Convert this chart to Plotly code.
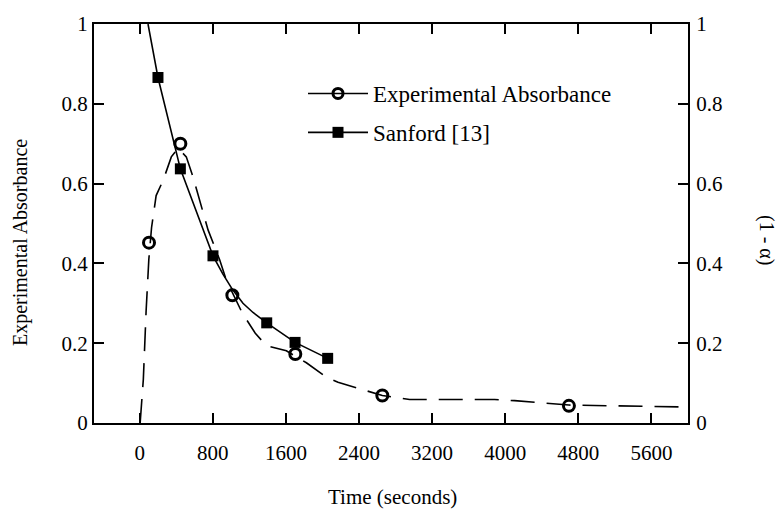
import plotly.graph_objects as go

# Experimental absorbance measured points
exp_time = [102, 445, 1014, 1703, 2655, 4697]
exp_abs = [0.452, 0.700, 0.320, 0.173, 0.069, 0.043]

# Experimental absorbance fitted (dashed) curve
exp_curve_time = [5, 40, 70, 100, 130, 180, 260, 346, 420, 510, 583, 656, 748, 875, 948,
                  1124, 1265, 1386, 1605, 1824, 2042, 2170, 2388, 2655, 2954, 3884, 4103,
                  4450, 4697, 6000]
exp_curve_abs = [0.0, 0.11, 0.28, 0.41, 0.49, 0.57, 0.61, 0.667, 0.689, 0.667, 0.617, 0.56,
                 0.484, 0.409, 0.358, 0.275, 0.225, 0.194, 0.181, 0.151, 0.115, 0.102,
                 0.087, 0.069, 0.059, 0.059, 0.056, 0.049, 0.045, 0.040]

# Sanford [13] (1 - alpha) model
san_line_time = [91, 200, 445, 802, 911, 1014, 1130, 1240, 1390, 1700, 2057]
san_line_val = [1.0, 0.866, 0.637, 0.419, 0.373, 0.335, 0.300, 0.277, 0.251, 0.202, 0.162]
san_time = [200, 445, 802, 1390, 1700, 2057]
san_val = [0.866, 0.637, 0.419, 0.251, 0.202, 0.162]

x_ticks = [0, 800, 1600, 2400, 3200, 4000, 4800, 5600]
y_ticks = [0, 0.2, 0.4, 0.6, 0.8, 1]

FONT = "Liberation Serif, Times New Roman, serif"

fig = go.Figure()

fig.add_trace(go.Scatter(x=exp_curve_time, y=exp_curve_abs, mode="lines",
                         line=dict(color="black", width=1.6, dash="24px,12px"),
                         showlegend=False, hoverinfo="skip"))
fig.add_trace(go.Scatter(x=exp_time, y=exp_abs, mode="markers",
                         marker=dict(symbol="circle-open", size=11, color="black",
                                     line=dict(width=3, color="black")),
                         showlegend=False))
fig.add_trace(go.Scatter(x=san_line_time, y=san_line_val, mode="lines", yaxis="y2",
                         line=dict(color="black", width=1.6),
                         showlegend=False, hoverinfo="skip"))
fig.add_trace(go.Scatter(x=san_time, y=san_val, mode="markers", yaxis="y2",
                         marker=dict(symbol="square", size=11, color="black"),
                         showlegend=False))

# legend entries
fig.add_trace(go.Scatter(x=[None], y=[None], mode="lines+markers",
                         name="Experimental Absorbance", legendgroup="a",
                         line=dict(color="black", width=1.6),
                         marker=dict(symbol="circle-open", size=10, color="black",
                                     line=dict(width=3, color="black"))))
fig.add_trace(go.Scatter(x=[None], y=[None], mode="lines+markers",
                         name="Sanford [13]", legendgroup="b",
                         line=dict(color="black", width=1.6),
                         marker=dict(symbol="square", size=11, color="black")))

L, R, T, B = 94, 93, 24, 89
W, H = 781, 512
pw, ph = W - L - R, H - T - B

def px(x):
    return (x - L) / pw

def py(y):
    return (H - B - y) / ph

axis_common = dict(showgrid=False, zeroline=False, showline=True, linecolor="black",
                   linewidth=2, ticks="inside", ticklen=10, tickwidth=2, tickcolor="black",
                   tickfont=dict(family=FONT, size=21, color="black"))

fig.update_layout(
    width=W, height=H,
    margin=dict(l=L, r=R, t=T, b=B),
    paper_bgcolor="white", plot_bgcolor="white",
    font=dict(family=FONT, color="black"),
    xaxis=dict(range=[-500, 6000], tickvals=x_ticks, mirror="ticks",
               ticklabelstandoff=10, **axis_common),
    yaxis=dict(range=[0, 1], tickvals=y_ticks, **axis_common),
    yaxis2=dict(range=[0, 1], tickvals=y_ticks, overlaying="y", side="right",
                ticklabelstandoff=2, **axis_common),
    legend=dict(x=px(303), y=py(72), xanchor="left", yanchor="top",
                bgcolor="rgba(0,0,0,0)", font=dict(family=FONT, size=23, color="black"),
                tracegroupgap=6, itemwidth=60),
    showlegend=True,
    annotations=[
        dict(text="Experimental Absorbance", x=px(20), y=py(243), xref="paper", yref="paper",
             xanchor="center", yanchor="middle",
             showarrow=False, textangle=-90, font=dict(family=FONT, size=20, color="black")),
        dict(text="Time (seconds)", x=px(392), y=py(497), xref="paper", yref="paper",
             xanchor="center", yanchor="middle",
             showarrow=False, font=dict(family=FONT, size=21, color="black")),
        dict(text="(1 - α)", x=px(767), y=py(240), xref="paper", yref="paper",
             xanchor="center", yanchor="middle",
             showarrow=False, textangle=90, font=dict(family=FONT, size=20, color="black")),
    ],
)

fig.write_html("out.html")
